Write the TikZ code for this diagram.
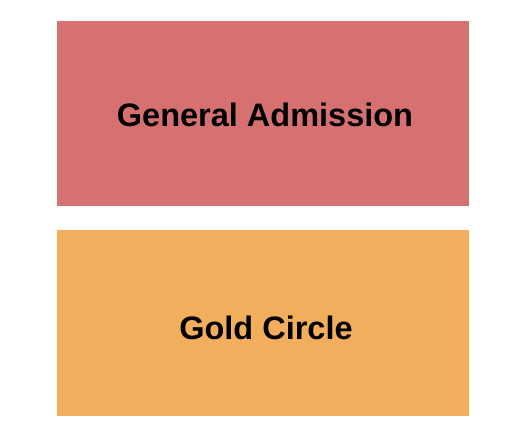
\documentclass[tikz,border=0pt]{standalone}
\usepackage{fontspec}
\setmainfont{Liberation Sans}
\usepackage{tikz}
\usetikzlibrary{positioning}

\definecolor{gacolor}{HTML}{D77171}
\definecolor{gccolor}{HTML}{F2AE5C}

\tikzset{
  section/.style={draw=none, minimum width=412pt, minimum height=185pt, inner sep=0pt},
  seclabel/.style={font=\fontsize{32.5}{38}\selectfont\bfseries, text=black}
}

\begin{document}
\begin{tikzpicture}[x=1pt, y=-1pt]

  \useasboundingbox[fill=white] (0, 0) rectangle (525, 444);

  \begin{scope}[shift={(0, 0)}]
    \node[section, fill=gacolor] (ga) at (263, 113.5) {};
    \node[seclabel] (galabel) at (265, 115) {General Admission};
  \end{scope}

  \begin{scope}[shift={(0, 0)}]
    \node[section, fill=gccolor, minimum height=186pt] (gc) at (263, 323) {};
    \node[seclabel] (gclabel) at (266, 328) {Gold Circle};
  \end{scope}

\end{tikzpicture}
\end{document}
